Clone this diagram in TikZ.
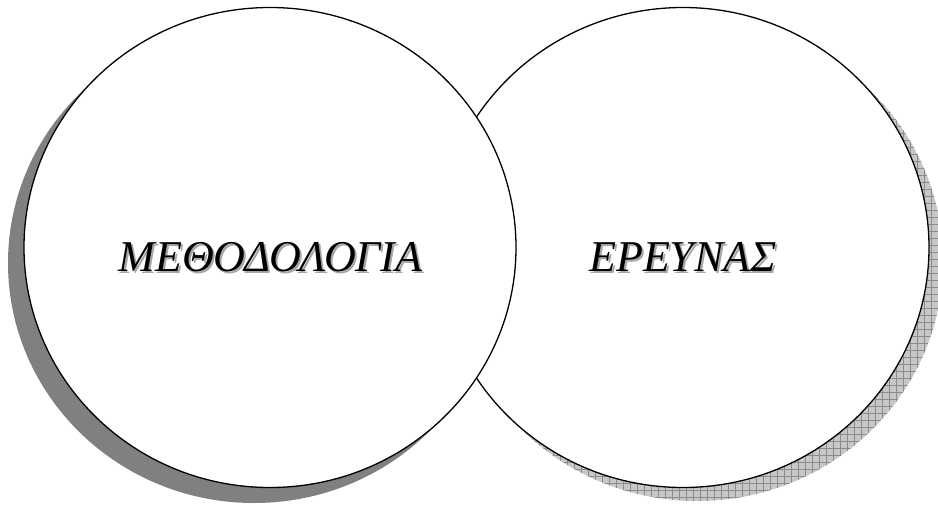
\documentclass[tikz,border=0pt]{standalone}
\usepackage{fontspec}
\setmainfont{Liberation Serif}
\usetikzlibrary{shapes.geometric}
\begin{document}
\begin{tikzpicture}[x=1pt,y=-1pt,
  circ/.style={ellipse,minimum width=492pt,minimum height=480pt,inner sep=0pt,outer sep=0pt},
  ring/.style={circ,draw=black,fill=white,line width=1.3pt},
  lbl/.style={font=\fontsize{44}{50}\selectfont\itshape,inner sep=0pt},
  lblshadow/.style={lbl,text=black!35}]
\useasboundingbox (0,0) rectangle (938,504);
% right circle shadow with grid
\node[circ,fill=black!22] (RS) at (697,261) {};
\begin{scope}
  \clip (697,261) ellipse [x radius=246pt,y radius=240pt];
  \draw[black!45,line width=0.5pt,step=7pt] (440,0) grid (938,504);
\end{scope}
\node[ring] (R) at (683,247.5) {};
% left circle shadow
\node[circ,fill=black!50] (LS) at (254,263) {};
\node[ring] (L) at (270,247.5) {};
% labels
\node[lblshadow] (t1s) at (270.5+2,257+2) {ΜΕΘΟΔΟΛΟΓΙΑ};
\node[lbl] (t1) at (270.5,257) {ΜΕΘΟΔΟΛΟΓΙΑ};
\node[lblshadow] (t2s) at (683+2,257+2) {ΕΡΕΥΝΑΣ};
\node[lbl] (t2) at (683,257) {ΕΡΕΥΝΑΣ};
\end{tikzpicture}
\end{document}
